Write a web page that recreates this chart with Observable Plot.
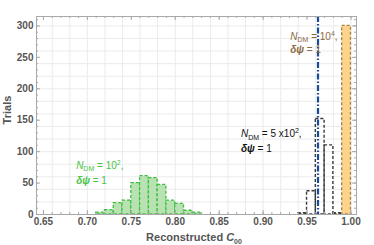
<!DOCTYPE html>
<html><head><meta charset="utf-8">
<script src="https://cdn.jsdelivr.net/npm/d3@7"></script>
<script src="https://cdn.jsdelivr.net/npm/@observablehq/plot@0.6"></script>
<style>body{margin:0;background:#fff;}</style>
</head><body><div id="chart"></div>
<script>
// Histogram data (bin left edges, width 0.01)
const greenEdges  = [0.71, 0.72, 0.73, 0.74, 0.75, 0.76, 0.77, 0.78, 0.79, 0.80, 0.81, 0.82];
const greenCounts = [3, 7, 18, 22, 50, 61, 58, 47, 22, 17, 6, 3];
const blackEdges  = [0.94, 0.95, 0.96, 0.97, 0.98];
const blackCounts = [2, 37, 152, 110, 2];
const orangeEdges  = [0.99];
const orangeCounts = [300];
const binWidth = 0.01;
const blueLine = [0.9625];

// Ticks
const xMajor = [0.65, 0.70, 0.75, 0.80, 0.85, 0.90, 0.95, 1.00];
const xLabels = ["0.65", "0.70", "0.75", "0.80", "0.85", "0.90", "0.95", "1.00"];
const xMinor = d3.range(65, 101).map(d => d / 100);
const yMajor = [0, 50, 100, 150, 200, 250, 300];
const yMinor = d3.range(0, 311, 10);
const xGrid = d3.range(66, 101, 2).map(d => d / 100);
const yGrid = d3.range(0, 301, 20);

// Annotations
const annotations = [
  {key: "g1", x: 0.6872, y: 78},
  {key: "g2", x: 0.6872, y: 54},
  {key: "k1", x: 0.8748, y: 128},
  {key: "k2", x: 0.8748, y: 105},
  {key: "b1", x: 0.9309, y: 283},
  {key: "b2", x: 0.9309, y: 262}
];
const annColor = {g1: "#45c445", g2: "#45c445", k1: "#111", k2: "#111", b1: "#8c6a3f", b2: "#8c6a3f"};
const NDM = (rest) => [{t: "N", italic: true}, {t: "DM", sub: true}, ...rest];
const richTexts = {
  g1: NDM([{t: " = 10"}, {t: "2", sup: true}, {t: ","}]),
  g2: [{t: "δψ", italic: true, bold: true}, {t: " = 1"}],
  k1: NDM([{t: " = 5 x10"}, {t: "2", sup: true}, {t: ","}]),
  k2: [{t: "δψ", italic: true, bold: true}, {t: " = 1"}],
  b1: NDM([{t: " = 10"}, {t: "4", sup: true}, {t: ","}]),
  b2: [{t: "δψ", italic: true, bold: true}, {t: " = 1"}]
};

const W = 374, H = 245, mL = 36, mR = 18, mT = 16, mB = 31;
const plotW = W - mL - mR, plotH = H - mT - mB;
const font = "'Liberation Sans', Arial, sans-serif";
const toRects = (edges, counts) => edges.map((e, i) => ({x1: e, x2: e + binWidth, y: counts[i]}));
const dash = "3,2";

const chart = Plot.plot({
  width: W, height: H,
  marginLeft: mL, marginRight: mR, marginTop: mT, marginBottom: mB,
  style: {fontFamily: font, background: "#fff"},
  x: {domain: [0.6421, 1.0063]},
  y: {domain: [0, 315]},
  marks: [
    Plot.ruleX(xGrid, {stroke: "#ebebeb"}),
    Plot.ruleY(yGrid, {stroke: "#ebebeb"}),
    Plot.rectY(toRects(greenEdges, greenCounts), {x1: "x1", x2: "x2", y: "y", fill: "#b9e2b3", stroke: "#3fbe3f", strokeWidth: 1.3, strokeDasharray: dash}),
    Plot.rectY(toRects(blackEdges, blackCounts), {x1: "x1", x2: "x2", y: "y", fill: "none", stroke: "#3a3a3a", strokeWidth: 1.4, strokeDasharray: dash}),
    Plot.rectY(toRects(orangeEdges, orangeCounts), {x1: "x1", x2: "x2", y: "y", fill: "#fdd48a", stroke: "#a8804a", strokeWidth: 1.3, strokeDasharray: dash}),
    Plot.ruleX(blueLine, {stroke: "#1b4a98", strokeWidth: 2.2, strokeDasharray: "6,2,1.5,2"}),
    Plot.frame({stroke: "#a8a8a8"}),
    // ticks (inward) on all four sides
    Plot.ruleX(xMajor, {stroke: "#a8a8a8", insetTop: plotH - 4}),
    Plot.ruleX(xMinor, {stroke: "#a8a8a8", insetTop: plotH - 2}),
    Plot.ruleX(xMajor, {stroke: "#a8a8a8", insetBottom: plotH - 4}),
    Plot.ruleX(xMinor, {stroke: "#a8a8a8", insetBottom: plotH - 2}),
    Plot.ruleY(yMajor, {stroke: "#a8a8a8", insetRight: plotW - 4}),
    Plot.ruleY(yMinor, {stroke: "#a8a8a8", insetRight: plotW - 2}),
    Plot.ruleY(yMajor, {stroke: "#a8a8a8", insetLeft: plotW - 4}),
    Plot.ruleY(yMinor, {stroke: "#a8a8a8", insetLeft: plotW - 2}),
    Plot.axisX(xMajor, {tickSize: 0, tickPadding: 3, tickFormat: (d, i) => xLabels[i], fontSize: 10, fontWeight: "bold", fill: "#555", label: null}),
    Plot.axisY(yMajor, {tickSize: 0, tickPadding: 3, fontSize: 10, fontWeight: "bold", fill: "#555", label: null}),
    Plot.text(annotations, {x: "x", y: "y", text: "key", textAnchor: "start", fontSize: 10, fill: d => annColor[d.key]})
  ]
});

const svg = d3.select(chart);
function fillRich(el, parts) {
  const s = d3.select(el);
  s.text("");
  let shift = 0;
  for (const p of parts) {
    const ts = s.append("tspan").text(p.t);
    const target = p.sub ? 2.5 : p.sup ? -4 : 0;
    if (target !== shift) { ts.attr("dy", target - shift); shift = target; }
    if (p.italic) ts.attr("font-style", "italic");
    if (p.bold) ts.attr("font-weight", "bold");
    if (p.sub || p.sup) ts.attr("font-size", "7px");
  }
}
svg.selectAll("text").each(function() {
  const k = this.textContent;
  if (richTexts[k]) fillRich(this, richTexts[k]);
});
// axis titles
const xt = svg.append("text").attr("x", mL + plotW / 2 - 2).attr("y", H - 4)
  .attr("text-anchor", "middle").attr("font-size", 11).attr("font-weight", "bold").attr("fill", "#555");
fillRich(xt.node(), [{t: "Reconstructed "}, {t: "C", italic: true}, {t: "00", sub: true}]);
svg.append("text").attr("transform", `translate(11,${110}) rotate(-90)`)
  .attr("text-anchor", "middle").attr("font-size", 11).attr("font-weight", "bold").attr("fill", "#555").text("Trials");

document.getElementById("chart").appendChild(chart);
</script>
</body></html>
